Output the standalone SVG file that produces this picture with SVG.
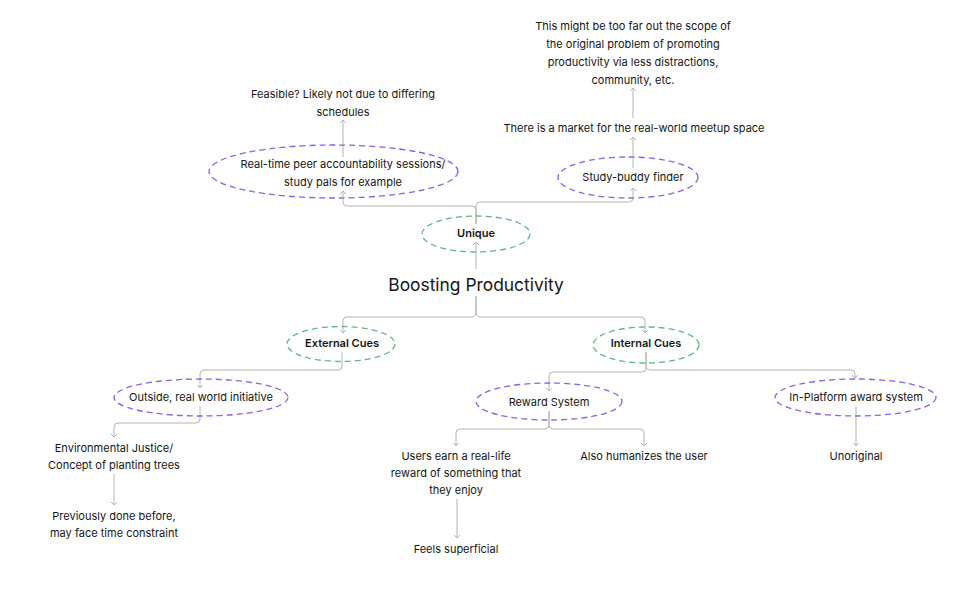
<svg xmlns="http://www.w3.org/2000/svg" width="960" height="590" viewBox="0 0 960 590">
<defs>
<marker id="arr" markerWidth="8" markerHeight="8" refX="4" refY="4" orient="auto" markerUnits="userSpaceOnUse">
<path d="M1,1 L4,4 L1,7" fill="none" stroke="#b4b4b4" stroke-width="1"/>
</marker>
</defs>
<style>
text{font-family:Inter,"Noto Sans","Liberation Sans",sans-serif;font-size:11px;fill:#161616;text-anchor:middle}
.b{font-weight:600}
.title{font-size:17.4px}
.g{fill:none;stroke:#5cbb7c;stroke-width:1.3;stroke-dasharray:6 4}
.p{fill:none;stroke:#8f5cf5;stroke-width:1.3;stroke-dasharray:6 4}
.c path{fill:none;stroke:#b4b4b4;stroke-width:1;marker-end:url(#arr)}
</style>
<rect width="960" height="590" fill="#ffffff"/>
<g class="c" id="connectors">
<path d="M476,269 V242"/>
<path d="M476,224 V210 Q476,206 472,206 H347 Q343,206 343,202 V191"/>
<path d="M476,224 V206 Q476,202 480,202 H629 Q633,202 633,198 V188"/>
<path d="M633,168 V137"/>
<path d="M633,118 V88"/>
<path d="M343,157 V120"/>
<path d="M476,296 V312 Q476,317 471,317 H347 Q343,317 343,321 V333"/>
<path d="M476,296 V312 Q476,317 481,317 H641 Q645,317 645,321 V333"/>
<path d="M342,352 V366 Q342,370 338,370 H204 Q200,370 200,374 V388"/>
<path d="M200,406 V419 Q200,423 196,423 H118 Q114,423 114,427 V437"/>
<path d="M114,474 V505"/>
<path d="M646,352 V368 Q646,372 642,372 H553 Q549,372 549,376 V391"/>
<path d="M646,352 V366 Q646,370 650,370 H851 Q855,370 855,374 V378"/>
<path d="M549,411 V425 Q549,429 545,429 H460 Q456,429 456,433 V446"/>
<path d="M549,411 V425 Q549,429 553,429 H640 Q644,429 644,433 V446"/>
<path d="M856,406 V446"/>
<path d="M457,499 V538"/>
</g>
<g id="n-boosting"><text class="title" x="476" y="291">Boosting Productivity</text></g>
<g id="n-unique"><ellipse class="g" cx="476" cy="234" rx="54" ry="18"/><text class="b" x="476" y="237">Unique</text></g>
<g id="n-realtime"><ellipse class="p" cx="333.5" cy="171.5" rx="124.5" ry="26.5"/><text x="343" y="168">Real-time peer accountability sessions/</text><text x="343" y="186">study pals for example</text></g>
<g id="n-feasible"><text x="343" y="98">Feasible? Likely not due to differing</text><text x="343" y="116">schedules</text></g>
<g id="n-studybuddy"><ellipse class="p" cx="628" cy="177.5" rx="70" ry="20.5"/><text x="633" y="181">Study-buddy finder</text></g>
<g id="n-market"><text x="634" y="132">There is a market for the real-world meetup space</text></g>
<g id="n-scope"><text x="633" y="30">This might be too far out the scope of</text><text x="633" y="48">the original problem of promoting</text><text x="633" y="66">productivity via less distractions,</text><text x="633" y="84">community, etc.</text></g>
<g id="n-external"><ellipse class="g" cx="341" cy="344" rx="54" ry="17.5"/><text class="b" x="342" y="347">External Cues</text></g>
<g id="n-internal"><ellipse class="g" cx="646" cy="345" rx="53" ry="18"/><text class="b" x="646" y="347">Internal Cues</text></g>
<g id="n-outside"><ellipse class="p" cx="201" cy="397.5" rx="87" ry="18.5"/><text x="201" y="401">Outside, real world initiative</text></g>
<g id="n-reward"><ellipse class="p" cx="549" cy="401.5" rx="73" ry="18.5"/><text x="549" y="406">Reward System</text></g>
<g id="n-inplatform"><ellipse class="p" cx="855.5" cy="397.5" rx="80.5" ry="18.5"/><text x="856" y="401">In-Platform award system</text></g>
<g id="n-env"><text x="114" y="452">Environmental Justice/</text><text x="114" y="469">Concept of planting trees</text></g>
<g id="n-previously"><text x="114" y="520">Previously done before,</text><text x="114" y="537">may face time constraint</text></g>
<g id="n-users"><text x="456" y="460">Users earn a real-life</text><text x="456" y="477">reward of something that</text><text x="456" y="494">they enjoy</text></g>
<g id="n-superficial"><text x="456" y="553">Feels superficial</text></g>
<g id="n-humanizes"><text x="644" y="460">Also humanizes the user</text></g>
<g id="n-unoriginal"><text x="856" y="460">Unoriginal</text></g>
</svg>
